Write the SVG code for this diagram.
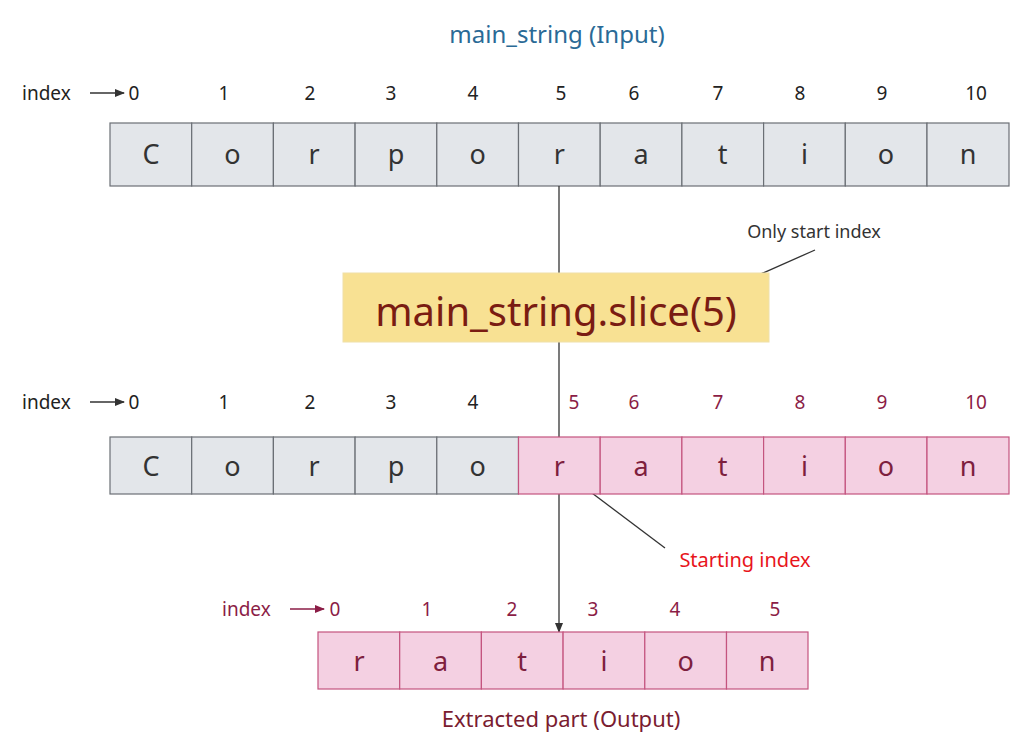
<svg xmlns="http://www.w3.org/2000/svg" width="1024" height="744" viewBox="0 0 1024 744">
<style>
text{font-family:"Noto Sans","Open Sans",sans-serif}
.g{fill:#e3e6ea;stroke:#6b6f75;stroke-width:1.2}
.p{fill:#f4d0e2;stroke:#c4547f;stroke-width:1.2}
.c{font-size:27px;fill:#333;text-anchor:middle}
.cp{font-size:27px;fill:#7e1f3e;text-anchor:middle}
.i{font-size:19px;fill:#222;text-anchor:middle}
.ip{font-size:19px;fill:#8b1d46;text-anchor:middle}
.ln{stroke:#333;stroke-width:1.3;fill:none}
</style>
<defs>
<marker id="a" markerWidth="10" markerHeight="8" refX="9" refY="4" orient="auto" markerUnits="userSpaceOnUse"><path d="M0,0L10,4L0,8z" fill="#333"/></marker>
<marker id="ap" markerWidth="10" markerHeight="8" refX="9" refY="4" orient="auto" markerUnits="userSpaceOnUse"><path d="M0,0L10,4L0,8z" fill="#8b1d46"/></marker>
</defs>
<text x="557" y="43" font-size="24" fill="#2a6a96" text-anchor="middle">main_string (Input)</text>
<g id="idx1">
<text x="22" y="100" font-size="19" fill="#222">index</text>
<line x1="90" y1="93" x2="124" y2="93" class="ln" marker-end="url(#a)"/>
<text class="i" x="134" y="100">0</text><text class="i" x="224" y="100">1</text><text class="i" x="310" y="100">2</text><text class="i" x="391" y="100">3</text><text class="i" x="473" y="100">4</text><text class="i" x="561" y="100">5</text><text class="i" x="634" y="100">6</text><text class="i" x="718" y="100">7</text><text class="i" x="800" y="100">8</text><text class="i" x="882" y="100">9</text><text class="i" x="976" y="100">10</text>
</g>
<g id="row1">
<rect class="g" x="110" y="123" width="81.7" height="63"/><rect class="g" x="191.7" y="123" width="81.7" height="63"/><rect class="g" x="273.4" y="123" width="81.7" height="63"/><rect class="g" x="355.1" y="123" width="81.7" height="63"/><rect class="g" x="436.8" y="123" width="81.7" height="63"/><rect class="g" x="518.5" y="123" width="81.7" height="63"/><rect class="g" x="600.2" y="123" width="81.7" height="63"/><rect class="g" x="681.9" y="123" width="81.7" height="63"/><rect class="g" x="763.6" y="123" width="81.7" height="63"/><rect class="g" x="845.3" y="123" width="81.7" height="63"/><rect class="g" x="927" y="123" width="82" height="63"/>
<text class="c" x="151" y="164">C</text><text class="c" x="232.5" y="164">o</text><text class="c" x="314" y="164">r</text><text class="c" x="396" y="164">p</text><text class="c" x="477.6" y="164">o</text><text class="c" x="559.3" y="164">r</text><text class="c" x="641" y="164">a</text><text class="c" x="722.7" y="164">t</text><text class="c" x="804.4" y="164">i</text><text class="c" x="886" y="164">o</text><text class="c" x="968" y="164">n</text>
</g>
<g id="connectors">
<line class="ln" x1="559" y1="186" x2="559" y2="273"/>
<line class="ln" x1="559" y1="342" x2="559" y2="437"/>
<line class="ln" x1="559" y1="494" x2="559" y2="632" marker-end="url(#a)"/>
<line class="ln" x1="815" y1="250" x2="720" y2="292" marker-end="url(#a)"/>
<line class="ln" x1="665" y1="548" x2="580" y2="484" marker-end="url(#a)"/>
</g>
<g id="slice">
<rect x="343" y="273" width="426" height="69" fill="#f8e193" stroke="#efe0a8" stroke-width="1"/>
<text x="556" y="326" font-size="40" fill="#7a1c12" text-anchor="middle">main_string.slice(5)</text>
</g>
<text x="814" y="238" font-size="18" fill="#333" text-anchor="middle">Only start index</text>
<g id="idx2">
<text x="22" y="409" font-size="19" fill="#222">index</text>
<line x1="90" y1="402" x2="124" y2="402" class="ln" marker-end="url(#a)"/>
<text class="i" x="134" y="409">0</text><text class="i" x="224" y="409">1</text><text class="i" x="310" y="409">2</text><text class="i" x="391" y="409">3</text><text class="i" x="473" y="409">4</text><text class="ip" x="574" y="409">5</text><text class="ip" x="634" y="409">6</text><text class="ip" x="718" y="409">7</text><text class="ip" x="800" y="409">8</text><text class="ip" x="882" y="409">9</text><text class="ip" x="976" y="409">10</text>
</g>
<g id="row2">
<rect class="g" x="110" y="437" width="81.7" height="57"/><rect class="g" x="191.7" y="437" width="81.7" height="57"/><rect class="g" x="273.4" y="437" width="81.7" height="57"/><rect class="g" x="355.1" y="437" width="81.7" height="57"/><rect class="g" x="436.8" y="437" width="81.7" height="57"/><rect class="p" x="518.5" y="437" width="81.7" height="57"/><rect class="p" x="600.2" y="437" width="81.7" height="57"/><rect class="p" x="681.9" y="437" width="81.7" height="57"/><rect class="p" x="763.6" y="437" width="81.7" height="57"/><rect class="p" x="845.3" y="437" width="81.7" height="57"/><rect class="p" x="927" y="437" width="82" height="57"/>
<text class="c" x="151" y="476">C</text><text class="c" x="232.5" y="476">o</text><text class="c" x="314" y="476">r</text><text class="c" x="396" y="476">p</text><text class="c" x="477.6" y="476">o</text><text class="cp" x="559.3" y="476">r</text><text class="cp" x="641" y="476">a</text><text class="cp" x="722.7" y="476">t</text><text class="cp" x="804.4" y="476">i</text><text class="cp" x="886" y="476">o</text><text class="cp" x="968" y="476">n</text>
</g>
<text x="745" y="567" font-size="20" fill="#e8141b" text-anchor="middle">Starting index</text>
<g id="idx3">
<text x="222" y="616" font-size="19" fill="#8b1d46">index</text>
<line x1="290" y1="609" x2="324" y2="609" stroke="#8b1d46" stroke-width="1.3" marker-end="url(#ap)"/>
<text class="ip" x="335" y="616">0</text><text class="ip" x="427" y="616">1</text><text class="ip" x="512" y="616">2</text><text class="ip" x="593" y="616">3</text><text class="ip" x="675" y="616">4</text><text class="ip" x="775" y="616">5</text>
</g>
<g id="row3">
<rect class="p" x="318" y="632" width="81.7" height="57"/><rect class="p" x="399.7" y="632" width="81.7" height="57"/><rect class="p" x="481.4" y="632" width="81.7" height="57"/><rect class="p" x="563.1" y="632" width="81.7" height="57"/><rect class="p" x="644.8" y="632" width="81.7" height="57"/><rect class="p" x="726.5" y="632" width="81.5" height="57"/>
<text class="cp" x="359" y="671">r</text><text class="cp" x="440.5" y="671">a</text><text class="cp" x="522" y="671">t</text><text class="cp" x="604" y="671">i</text><text class="cp" x="685.6" y="671">o</text><text class="cp" x="767" y="671">n</text>
</g>
<text x="561" y="727" font-size="22" fill="#7a1c30" text-anchor="middle">Extracted part (Output)</text>
</svg>
